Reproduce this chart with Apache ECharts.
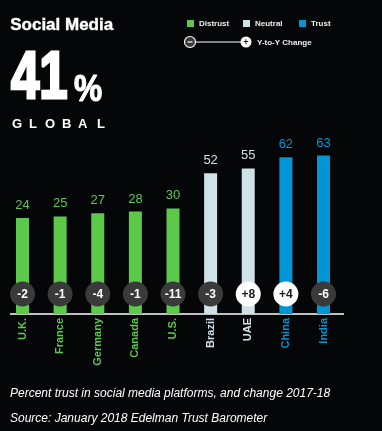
<!DOCTYPE html>
<html><head><meta charset="utf-8">
<script src="https://cdn.jsdelivr.net/npm/echarts@6/dist/echarts.min.js"></script>
<style>html,body{margin:0;padding:0;background:#050608}#c{width:382px;height:431px}</style>
</head><body><div id="c"></div>
<script>
const categories = ['U.K.','France','Germany','Canada','U.S.','Brazil','UAE','China','India'];
const trustValues = [24,25,27,28,30,52,55,62,63];
const changeValues = [-2,-1,-4,-1,-11,-3,8,4,-6];
const groups = ['Distrust','Distrust','Distrust','Distrust','Distrust','Neutral','Neutral','Trust','Trust'];
const legendNames = ['Distrust','Neutral','Trust'];
const globalValue = 41;

const groupColors = {Distrust:'#5cc94b', Neutral:'#cfe2e8', Trust:'#0096d6'};
const Y_MIN = -36, Y_MAX = 100;
const FONT = '"Liberation Sans", Arial, sans-serif';

function renderBar(params, api){
  const i = api.value(0), v = api.value(1);
  const top = api.coord([i, v]);
  const bot = api.coord([i, Y_MIN]);
  const w = 13;
  const col = groupColors[groups[i]];
  return {type:'group', children:[
    {type:'rect', shape:{x: top[0]-w/2, y: top[1], width: w, height: bot[1]-top[1]}, style:{fill: col}},
    {type:'text', x: top[0], y: top[1]-6, style:{text: String(v), fill: col, font: '13px ' + FONT, align:'center', verticalAlign:'bottom'}}
  ]};
}
function renderChange(params, api){
  const i = api.value(0), c = api.value(1);
  const p = api.coord([i, Y_MIN]);
  const cy = p[1] - 20;
  const pos = c > 0;
  return {type:'group', children:[
    {type:'circle', shape:{cx: p[0], cy: cy, r: 12.5}, style:{fill: pos ? '#ffffff' : '#3a3a3a'}},
    {type:'text', x: p[0], y: cy + 0.5, scaleX: 1, style:{text: (pos ? '+' : '') + c, fill: pos ? '#1a1a1a' : '#ffffff', font: 'bold 12px ' + FONT, align:'center', verticalAlign:'middle'}}
  ]};
}

const globalLetters = 'GLOBAL'.split('');
const letterX = [12, 29, 45, 62, 78, 97];

const graphics = [
  {type:'text', left: 10, top: 17, style:{text:'Social Media', fill:'#ffffff', font:'bold 17px ' + FONT, stroke:'#ffffff', lineWidth: 0.4}},
  {type:'text', x: 11, y: 79.5, scaleX: 0.76, style:{text: String(globalValue), fill:'#ffffff', font:'bold 67px ' + FONT, verticalAlign:'middle', stroke:'#ffffff', lineWidth: 3}},
  {type:'text', x: 74, y: 91, scaleX: 0.88, style:{text:'%', fill:'#ffffff', font:'bold 36px ' + FONT, verticalAlign:'middle', stroke:'#ffffff', lineWidth: 1.2}},
  {type:'line', shape:{x1: 10, y1: 314, x2: 344, y2: 314}, style:{stroke:'#ffffff', lineWidth: 1.5}},
  {type:'text', x: 10, y: 394, style:{text:'Percent trust in social media platforms, and change 2017-18', fill:'#ffffff', font:'italic 12px ' + FONT, verticalAlign:'middle'}},
  {type:'text', x: 10, y: 419, style:{text:'Source: January 2018 Edelman Trust Barometer', fill:'#ffffff', font:'italic 12px ' + FONT, verticalAlign:'middle'}},
  // Y-to-Y change key
  {type:'line', shape:{x1: 195, y1: 42, x2: 241, y2: 42}, style:{stroke:'#ffffff', lineWidth: 1}},
  {type:'circle', shape:{cx: 190, cy: 42, r: 5.5}, style:{fill:'#3a3a3a', stroke:'#ffffff', lineWidth: 1.2}},
  {type:'line', shape:{x1: 187.5, y1: 42, x2: 192.5, y2: 42}, style:{stroke:'#ffffff', lineWidth: 1.2}},
  {type:'circle', shape:{cx: 246, cy: 42, r: 5.5}, style:{fill:'#ffffff'}},
  {type:'text', x: 246, y: 42.5, style:{text:'+', fill:'#1a1a1a', font:'bold 9px ' + FONT, align:'center', verticalAlign:'middle'}},
  {type:'text', x: 257, y: 42.5, style:{text:'Y-to-Y Change', fill:'#eeeeee', font:'bold 8px ' + FONT, verticalAlign:'middle'}}
];
globalLetters.forEach((ch, k) => {
  graphics.push({type:'text', x: letterX[k], y: 124.5, style:{text: ch, fill:'#ffffff', font:'bold 13px ' + FONT, verticalAlign:'middle'}});
});
const legendX = [187, 243, 299];
legendNames.forEach((n, k) => {
  graphics.push({type:'rect', shape:{x: legendX[k], y: 20, width: 7, height: 7}, style:{fill: groupColors[n]}});
  graphics.push({type:'text', x: legendX[k] + 12, y: 23.5, style:{text: n, fill:'#eeeeee', font:'bold 8px ' + FONT, verticalAlign:'middle'}});
});

const chart = echarts.init(document.getElementById('c'));
chart.setOption({
  backgroundColor: '#050608',
  animation: false,
  grid: {left: 3.7, right: 39.7, top: 96.4, bottom: 117, containLabel: false},
  xAxis: {
    type: 'category', data: categories,
    axisLine: {show: false}, axisTick: {show: false},
    axisLabel: {
      rotate: 90, margin: 4, interval: 0,
      fontFamily: FONT, fontWeight: 'bold', fontSize: 11,
      color: (val, idx) => groupColors[groups[idx]]
    }
  },
  yAxis: {type: 'value', min: Y_MIN, max: Y_MAX, show: false, splitLine: {show: false}},
  series: [
    {type: 'custom', renderItem: renderBar, encode: {x: 0, y: 1},
     data: trustValues.map((v, i) => [i, v]), z: 2},
    {type: 'custom', renderItem: renderChange, encode: {x: 0, y: 1},
     data: changeValues.map((c, i) => [i, c]), z: 3}
  ],
  graphic: graphics
});
</script>
</body></html>
